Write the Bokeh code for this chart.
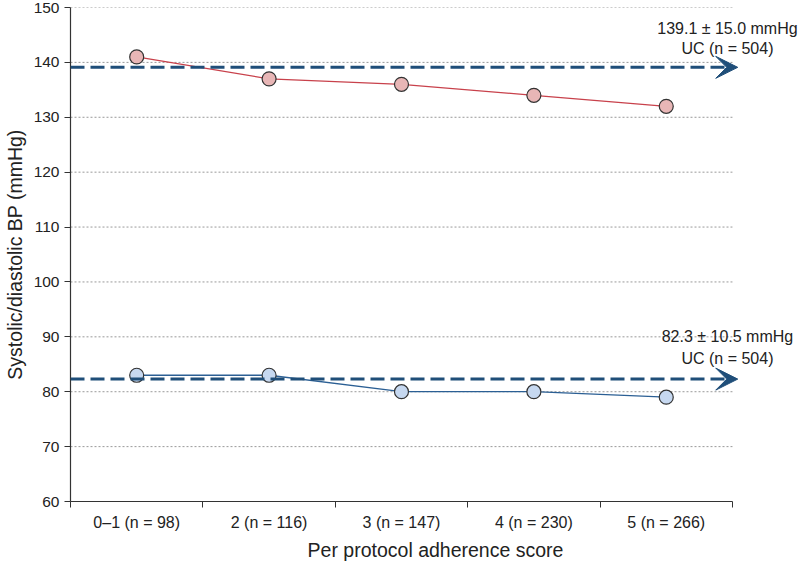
from bokeh.plotting import figure
from bokeh.models import (FixedTicker, Range1d, Arrow, VeeHead, Label)
from bokeh.embed import file_html
from bokeh.resources import INLINE

categories = ["0\u20131 (n = 98)", "2 (n = 116)", "3 (n = 147)", "4 (n = 230)", "5 (n = 266)"]
systolic = [141, 137, 136, 134, 132]
diastolic = [83, 83, 80, 80, 79]
uc_systolic = 139.1
uc_diastolic = 82.3
uc_systolic_text = ["139.1 \u00b1 15.0 mmHg", "UC (n = 504)"]
uc_diastolic_text = ["82.3 \u00b1 10.5 mmHg", "UC (n = 504)"]
y_ticks = [60, 70, 80, 90, 100, 110, 120, 130, 140, 150]

FONT = "Liberation Sans"
n = len(categories)
xs = [i + 0.5 for i in range(n)]

p = figure(width=800, height=563, output_backend="svg", toolbar_location=None,
           x_range=Range1d(0, n * 1.1028), y_range=Range1d(60, 150),
           min_border_left=62, min_border_right=0, min_border_top=7, min_border_bottom=50)
p.outline_line_color = None
p.background_fill_color = "white"
p.border_fill_color = "white"

# axes
p.xaxis.ticker = FixedTicker(ticks=xs, minor_ticks=list(range(n + 1)))
p.xaxis.bounds = (0, n)
p.xaxis.major_label_overrides = {x: c for x, c in zip(xs, categories)}
p.xaxis.major_tick_out = 0
p.xaxis.major_tick_in = 0
p.xaxis.minor_tick_out = 6
p.xaxis.minor_tick_in = 0
p.xaxis.major_label_standoff = 6
p.xaxis.axis_label = "Per protocol adherence score"
p.xaxis.axis_label_standoff = 5

p.yaxis.ticker = FixedTicker(ticks=y_ticks)
p.yaxis.major_tick_out = 6
p.yaxis.major_tick_in = 0
p.yaxis.minor_tick_line_color = None
p.yaxis.major_label_standoff = 5
p.yaxis.axis_label = "Systolic/diastolic BP (mmHg)"
p.yaxis.axis_label_standoff = 5

for ax in (p.xaxis[0], p.yaxis[0]):
    ax.axis_line_color = "#333333"
    ax.axis_line_width = 1.2
    ax.major_tick_line_color = "#333333"
    ax.major_label_text_font = FONT
    ax.major_label_text_color = "#222222"
    ax.axis_label_text_font = FONT
    ax.axis_label_text_font_size = "19.5px"
    ax.axis_label_text_font_style = "normal"
    ax.axis_label_text_color = "#222222"
p.xaxis.minor_tick_line_color = "#333333"
p.xaxis.major_label_text_font_size = "16px"
p.yaxis.major_label_text_font_size = "15.5px"

p.xgrid.grid_line_color = None
p.ygrid.grid_line_color = None
grid_y = y_ticks[1:]
p.segment(x0=[0] * len(grid_y), y0=grid_y, x1=[n] * len(grid_y), y1=grid_y,
          line_color="#999999", line_dash="2 2", line_width=1)

# UC reference arrows
for yv in (uc_systolic, uc_diastolic):
    p.add_layout(Arrow(x_start=0, y_start=yv, x_end=n + 0.04, y_end=yv,
                       line_color="#1f4e79", line_width=3, line_dash="14 6",
                       end=VeeHead(size=22, fill_color="#1f4e79", line_color="#1f4e79",
                                   line_width=1)))

# data lines
p.line(xs, systolic, line_color="#c8414b", line_width=1.3)
p.scatter(xs, systolic, size=14, fill_color="#e8b6b6", line_color="#333333", line_width=1.2)
p.line(xs, diastolic, line_color="#2b5f94", line_width=1.3)
p.scatter(xs, diastolic, size=14, fill_color="#c6d8f0", line_color="#333333", line_width=1.2)

# annotations
def add_text(txt, y, yoff):
    p.add_layout(Label(x=n, y=y, x_offset=-5, y_offset=yoff, text=txt,
                       text_align="center", text_baseline="middle",
                       text_font=FONT, text_font_size="16px", text_color="#222222"))

add_text(uc_systolic_text[0], uc_systolic, 39)
add_text(uc_systolic_text[1], uc_systolic, 19)
add_text(uc_diastolic_text[0], uc_diastolic, 43)
add_text(uc_diastolic_text[1], uc_diastolic, 21)

open("out.html", "w").write(file_html(p, INLINE))
